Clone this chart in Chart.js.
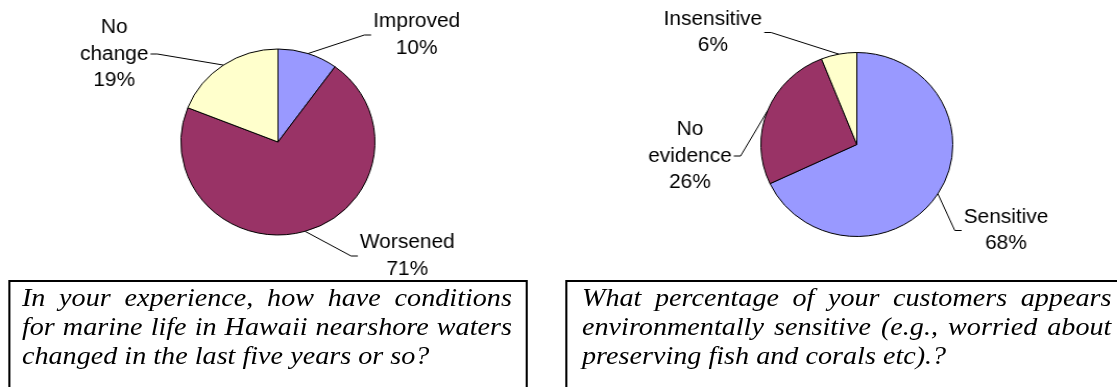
<!DOCTYPE html>
<html lang="en">
<head>
    <meta charset="UTF-8">
    <title>Marine life survey pies</title>
    <script src="https://cdn.jsdelivr.net/npm/chart.js"></script>
    <style>
        html, body { margin: 0; padding: 0; background: #fff; overflow: hidden; }
        /* the original picture is a little wider than tall, so stretch the whole stage */
        #stage { position: relative; width: 1071px; height: 387px; transform: scaleX(1.043); transform-origin: 0 0; }
        canvas { position: absolute; top: 0; }
        .question {
            position: absolute; top: 280px; height: 120px; box-sizing: border-box;
            border: 2px solid #000; padding: 1px 0 0 0; color: #000;
        }
        /* the scanned text is wider than plain Times, hence the extra stretch */
        .question .txt {
            transform: scaleX(1.08); transform-origin: 0 0;
            font-family: "Liberation Serif", "Times New Roman", serif; font-style: italic;
            font-size: 25px; line-height: 29px;
        }
        .question .txt div { text-align: justify; text-align-last: justify; white-space: nowrap; }
        .question .txt div.last { text-align-last: left; }
    </style>
</head>
<body>
<div id="stage">
    <canvas id="leftPie" width="535" height="280" style="left:0"></canvas>
    <canvas id="rightPie" width="536" height="280" style="left:535px"></canvas>

    <div class="question" style="left:8px; width:498px; padding-left:11px;">
        <div class="txt" style="width:435px">
            <div>In your experience, how have conditions</div>
            <div>for marine life in Hawaii nearshore waters</div>
            <div class="last">changed in the last five years or so?</div>
        </div>
    </div>
    <div class="question" style="left:542px; width:544px; padding-left:14px;">
        <div class="txt" style="width:470px">
            <div>What percentage of your customers appears</div>
            <div>environmentally sensitive (e.g., worried about</div>
            <div class="last">preserving fish and corals etc).?</div>
        </div>
    </div>
</div>

<script>
    // data
    const leftCategories = ['Improved', 'Worsened', ['No', 'change']];
    const leftValues = [10, 71, 19];
    const rightCategories = ['Sensitive', ['No', 'evidence'], 'Insensitive'];
    const rightValues = [68, 26, 6];

    const sliceColors = ['#9999FF', '#993366', '#FFFFCC'];
    const rightColors = ['#9999FF', '#993366', '#FFFFCC'];

    // where each label block sits, relative to the pie centre
    const leftLabelOffsets = [[133, -107], [124, 114], [-157, -88]];
    const rightLabelOffsets = [[143, 86], [-160, 11.5], [-138, -112]];

    const labelFont = '20px "Liberation Sans", Arial, sans-serif';
    const lineGap = 26.5;

    // draws the outside labels with leader lines, like the spreadsheet did
    const pieLabels = {
        id: 'pieLabels',
        afterDatasetsDraw(chart, args, opts) {
            const ctx = chart.ctx;
            const meta = chart.getDatasetMeta(0);
            const values = chart.data.datasets[0].data;
            ctx.save();
            ctx.font = labelFont;
            ctx.fillStyle = '#000';
            ctx.strokeStyle = '#000';
            ctx.lineWidth = 1;
            ctx.textAlign = 'center';
            ctx.textBaseline = 'middle';
            meta.data.forEach((arc, i) => {
                const p = arc.getProps(['x', 'y', 'startAngle', 'endAngle', 'outerRadius'], true);
                const mid = (p.startAngle + p.endAngle) / 2;
                const ex = p.x + Math.cos(mid) * p.outerRadius;
                const ey = p.y + Math.sin(mid) * p.outerRadius;

                let name = chart.data.labels[i];
                const lines = (Array.isArray(name) ? name : [name]).concat([values[i] + '%']);
                const lx = p.x + opts.offsets[i][0];
                const ly = p.y + opts.offsets[i][1];
                const w = Math.max(...lines.map(t => ctx.measureText(t).width));

                const side = lx > p.x ? -1 : 1;
                const endX = lx + side * (w / 2 + 2);
                const elbowX = endX + side * 6.5;

                ctx.beginPath();
                ctx.moveTo(ex, ey);
                ctx.lineTo(elbowX, ly);
                ctx.lineTo(endX, ly);
                ctx.stroke();

                lines.forEach((t, j) => {
                    ctx.fillText(t, lx, ly + (j - (lines.length - 1) / 2) * lineGap);
                });
            });
            ctx.restore();
        }
    };

    function makePie(id, labels, values, colors, radius, padding, offsets) {
        return new Chart(document.getElementById(id), {
            type: 'pie',
            data: {
                labels: labels,
                datasets: [{
                    data: values,
                    backgroundColor: colors,
                    borderColor: '#000',
                    borderWidth: 1
                }]
            },
            options: {
                responsive: false,
                animation: false,
                radius: radius,
                layout: { padding: padding },
                plugins: {
                    legend: { display: false },
                    tooltip: { enabled: false },
                    pieLabels: { offsets: offsets }
                }
            },
            plugins: [pieLabels]
        });
    }

    makePie('leftPie', leftCategories, leftValues, sliceColors, 93,
        { left: 0, right: 2, top: 4, bottom: 0 }, leftLabelOffsets);
    makePie('rightPie', rightCategories, rightValues, rightColors, 92,
        { left: 37, right: 0, top: 9, bottom: 0 }, rightLabelOffsets);
</script>
</body>
</html>
